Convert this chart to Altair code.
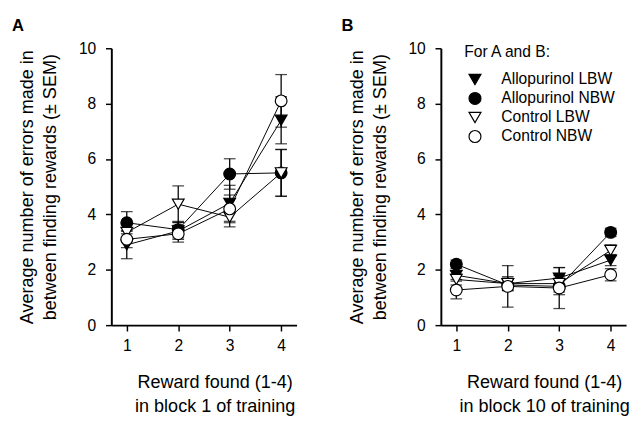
import altair as alt
import pandas as pd

x_vals = [1, 2, 3, 4]
series = ["Allopurinol LBW", "Allopurinol NBW", "Control LBW", "Control NBW"]
shapes = ["triangle-down", "circle", "triangle-down", "circle"]
fills = ["black", "black", "white", "white"]
strokes = ["black", "black", "black", "black"]

# Panel A (block 1)
a_allo_lbw = [2.9, 3.4, 4.4, 7.4]
a_allo_lbw_sem = [0.5, 0.3, 0.65, 0.85]
a_allo_nbw = [3.7, 3.45, 5.46, 5.5]
a_allo_nbw_sem = [0.4, 0.3, 0.55, 0.84]
a_ctrl_lbw = [3.35, 4.37, 3.9, 5.5]
a_ctrl_lbw_sem = [0.3, 0.66, 0.35, 0.85]
a_ctrl_nbw = [3.1, 3.3, 4.2, 8.1]
a_ctrl_nbw_sem = [0.3, 0.3, 0.5, 0.95]

# Panel B (block 10)
b_allo_lbw = [1.8, 1.5, 1.7, 2.35]
b_allo_lbw_sem = [0.15, 0.25, 0.38, 0.2]
b_allo_nbw = [2.2, 1.45, 1.4, 3.35]
b_allo_nbw_sem = [0.15, 0.2, 0.3, 0.15]
b_ctrl_lbw = [1.65, 1.5, 1.5, 2.7]
b_ctrl_lbw_sem = [0.2, 0.2, 0.3, 0.2]
b_ctrl_nbw = [1.27, 1.4, 1.34, 1.82]
b_ctrl_nbw_sem = [0.32, 0.75, 0.74, 0.22]

panels = {
    "A": [(a_allo_lbw, a_allo_lbw_sem), (a_allo_nbw, a_allo_nbw_sem),
          (a_ctrl_lbw, a_ctrl_lbw_sem), (a_ctrl_nbw, a_ctrl_nbw_sem)],
    "B": [(b_allo_lbw, b_allo_lbw_sem), (b_allo_nbw, b_allo_nbw_sem),
          (b_ctrl_lbw, b_ctrl_lbw_sem), (b_ctrl_nbw, b_ctrl_nbw_sem)],
}

rows = []
for p, lst in panels.items():
    for i, (means, sems) in enumerate(lst):
        for xv, m, e in zip(x_vals, means, sems):
            rows.append(dict(panel=p, series=series[i], order=i, x=xv, y=m,
                             lo=m - e, hi=m + e))
df = pd.DataFrame(rows)

FONT = "Liberation Sans"
ytitle = ["Average number of errors made in", "between finding rewards (\u00b1 SEM)"]


def make_panel(name, xtitle, show_legend):
    base = alt.Chart(df).transform_filter(alt.datum.panel == name)
    xscale = alt.Scale(domain=[0.7, 4.3], nice=False, zero=False)
    yscale = alt.Scale(domain=[0, 10], nice=False)
    xaxis = alt.Axis(values=x_vals, title=xtitle, format="d", grid=False,
                     titleX=106, titlePadding=20, titleLineHeight=25,
                     domainColor="black", domainWidth=2)
    yaxis = alt.Axis(values=[0, 2, 4, 6, 8, 10], title=ytitle, grid=False,
                     titlePadding=19, titleLineHeight=24, labelPadding=10,
                     domainColor="black", domainWidth=2)
    X = alt.X("x:Q", scale=xscale, axis=xaxis)
    lines = base.mark_line(color="black", strokeWidth=1).encode(
        x=X, y=alt.Y("y:Q", scale=yscale, axis=yaxis), detail="series:N",
        order="x:Q")
    rules = base.mark_rule(color="black", strokeWidth=1.3).encode(
        x=X, y=alt.Y("lo:Q", scale=yscale, axis=yaxis), y2="hi:Q")
    cap_lo = base.mark_tick(color="black", thickness=1.3, size=12,
                            orient="horizontal").encode(
        x=X, y=alt.Y("lo:Q", scale=yscale, axis=yaxis))
    cap_hi = base.mark_tick(color="black", thickness=1.3, size=12,
                            orient="horizontal").encode(
        x=X, y=alt.Y("hi:Q", scale=yscale, axis=yaxis))
    if show_legend:
        leg = alt.Legend(title="For A and B:", orient="none", legendX=24,
                         legendY=-4, titleFontSize=16, titleFontWeight="normal",
                         labelFontSize=16, labelOffset=19, rowPadding=2.5,
                         titlePadding=12, symbolSize=150, symbolOffset=3,
                         symbolStrokeWidth=1.2,
                         titleFont=FONT, labelFont=FONT, labelLimit=300)
    else:
        leg = None
    pts = base.mark_point(filled=True, size=145, strokeWidth=1.2,
                          opacity=1).encode(
        x=X, y=alt.Y("y:Q", scale=yscale, axis=yaxis),
        shape=alt.Shape("series:N", scale=alt.Scale(domain=series, range=shapes),
                        legend=leg, sort=series),
        fill=alt.Fill("series:N", scale=alt.Scale(domain=series, range=fills),
                      legend=leg, sort=series),
        stroke=alt.Stroke("series:N", scale=alt.Scale(domain=series, range=strokes),
                          legend=leg, sort=series),
        order=alt.Order("order:Q"))
    return alt.layer(lines, rules, cap_lo, cap_hi, pts).properties(
        width=190, height=284,
        title=alt.TitleParams(name, anchor="start", frame="bounds",
                              fontSize=17, fontWeight="bold", font=FONT,
                              dx=-6, offset=6))


pa = make_panel("A", ["Reward found (1-4)", "in block 1 of training"], False)
pb = make_panel("B", ["Reward found (1-4)", "in block 10 of training"], True)

chart = alt.hconcat(pa, pb, spacing=46).resolve_scale(
    shape="independent", fill="independent", stroke="independent").resolve_legend(
    shape="independent", fill="independent", stroke="independent").properties(
    padding={"left": 4, "top": 4, "right": 0, "bottom": 0}
).configure_view(stroke=None).configure_axis(
    domainColor="black", domainWidth=2, tickColor="black", tickWidth=1.5,
    tickSize=6, labelColor="black", titleColor="black", labelFontSize=16,
    titleFontSize=18.5, titleFontWeight="normal", labelFont=FONT, titleFont=FONT,
    labelPadding=5
).configure_axisX(labelPadding=7)

chart.save("out.html", embed_options={"renderer": "svg", "actions": False})
